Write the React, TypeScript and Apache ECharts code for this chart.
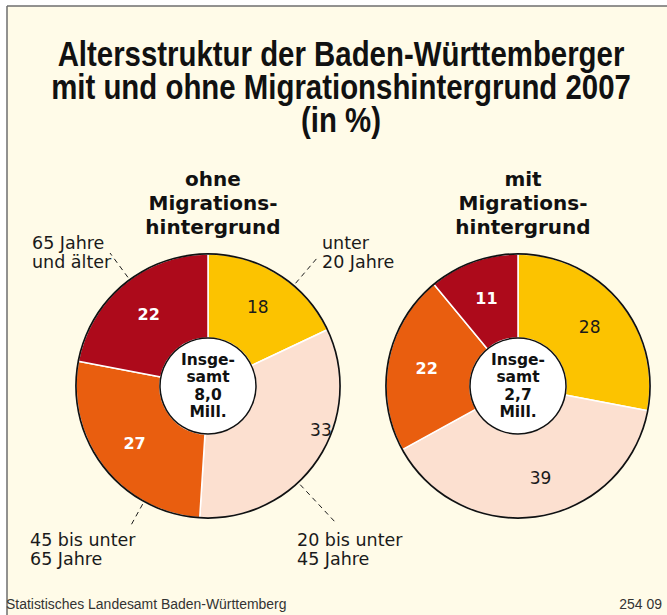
import React, { useEffect, useRef } from 'react';
import * as echarts from 'echarts';

// ---------- data ----------
const CATEGORIES = ['unter 20 Jahre', '20 bis unter 45 Jahre', '45 bis unter 65 Jahre', '65 Jahre und älter'];
const OUTER_LABELS = ['unter\n20 Jahre', '20 bis unter\n45 Jahre', '45 bis unter\n65 Jahre', '65 Jahre\nund älter'];
const OHNE_VALUES = [18, 33, 27, 22];
const MIT_VALUES = [28, 39, 22, 11];
const TOTALS = ['8,0', '2,7'];
const GROUP_TITLES = ['ohne\nMigrations-\nhintergrund', 'mit\nMigrations-\nhintergrund'];
const TITLE = 'Altersstruktur der Baden-Württemberger\nmit und ohne Migrationshintergrund 2007\n(in %)';
const SOURCE = 'Statistisches Landesamt Baden-Württemberg';
const CODE = '254 09';

// ---------- style / layout ----------
const COLORS = ['#fcc300', '#fce0d0', '#e95e0f', '#ad0a1b'];
const LABEL_COLORS = ['#1a1a1a', '#1a1a1a', '#ffffff', '#ffffff'];
const LABEL_WEIGHTS = ['normal', 'normal', 'bold', 'bold'];
const CENTERS = [[208, 386], [518, 386]];
const R_IN = 48;
const R_OUT = 132;
const NUDGES = [
  [[0, 0], [36, -8], [0, 0], [0, 0]],
  [[0, 0], [8, 0], [0, 0], [0, 0]],
];
const OUTER_POS = [[322, 233], [297, 530], [30, 530], [32, 233]];
const LEADER_ANCHOR = [[-4, 24], [39, -7], [100, -3], [78, 20]];
const SANS = '"DejaVu Sans", "Liberation Sans", sans-serif';
const ARIAL = '"Liberation Sans", Arial, sans-serif';
const BG = '#fffbe8';

function buildOption() {
  const groups = [OHNE_VALUES, MIT_VALUES];
  const series: any[] = [];
  groups.forEach((vals, g) => {
    series.push({
      type: 'pie',
      center: CENTERS[g],
      radius: [R_IN, R_OUT],
      startAngle: 90,
      clockwise: true,
      silent: true,
      avoidLabelOverlap: false,
      itemStyle: { borderColor: '#ffffff', borderWidth: 1.5 },
      label: {
        show: true,
        position: 'inside',
        formatter: '{c}',
        fontFamily: SANS,
        fontSize: 17,
      },
      labelLine: { show: false },
      labelLayout: (p: any) => {
        const n = NUDGES[g][p.dataIndex];
        return { dx: n[0], dy: n[1] };
      },
      data: vals.map((v, i) => ({
        value: v,
        name: CATEGORIES[i],
        itemStyle: { color: COLORS[i] },
        label: { color: LABEL_COLORS[i], fontWeight: LABEL_WEIGHTS[i], fontSize: LABEL_WEIGHTS[i] === 'bold' ? 16 : 17 },
      })),
    });
  });

  // outer category labels with dashed leaders (left pie only)
  series.push({
    type: 'pie',
    center: CENTERS[0],
    radius: [R_IN, R_OUT],
    startAngle: 90,
    silent: true,
    avoidLabelOverlap: false,
    itemStyle: { color: 'rgba(0,0,0,0)' },
    label: {
      show: true,
      position: 'outside',
      formatter: (p: any) => OUTER_LABELS[p.dataIndex],
      fontFamily: SANS,
      fontSize: 17.5,
      lineHeight: 19,
      color: '#1a1a1a',
    },
    labelLine: { show: true, lineStyle: { color: '#1a1a1a', width: 1, type: [5, 4] } },
    labelLayout: (p: any) => {
      const i = p.dataIndex;
      const [lx, ly] = OUTER_POS[i];
      const ax = lx + LEADER_ANCHOR[i][0];
      const ay = ly + LEADER_ANCHOR[i][1];
      const [cx, cy] = CENTERS[0];
      const dx = ax - cx;
      const dy = ay - cy;
      const d = Math.hypot(dx, dy);
      const sx = cx + (dx / d) * (R_OUT + 3);
      const sy = cy + (dy / d) * (R_OUT + 3);
      return {
        x: lx,
        y: ly,
        align: 'left',
        verticalAlign: 'top',
        labelLinePoints: [[sx, sy], [ax, ay], [ax, ay]],
      };
    },
    data: OHNE_VALUES.map((v, i) => ({ value: v, name: CATEGORIES[i] })),
  });

  groups.forEach((_, g) => {
    // black outline ring
    series.push({
      type: 'pie',
      center: CENTERS[g],
      radius: [R_OUT - 0.8, R_OUT + 0.9],
      silent: true,
      label: { show: false },
      labelLine: { show: false },
      itemStyle: { color: '#111111', borderWidth: 0 },
      data: [{ value: 1, name: 'outline' }],
    });
    // white centre disk with total
    series.push({
      type: 'pie',
      center: CENTERS[g],
      radius: [0, R_IN],
      silent: true,
      itemStyle: { color: '#ffffff', borderColor: '#111111', borderWidth: 1.5 },
      label: {
        show: true,
        position: 'center',
        formatter: `Insge-\nsamt\n${TOTALS[g]}\nMill.`,
        fontFamily: SANS,
        fontWeight: 'bold',
        fontSize: 15.5,
        lineHeight: 17.5,
        color: '#111111',
      },
      labelLine: { show: false },
      data: [{ value: 1, name: 'Insgesamt' }],
    });
  });

  return {
    animation: false,
    backgroundColor: '#ffffff',
    graphic: [
      { type: 'rect', z: -10, shape: { x: 7, y: 6, width: 660, height: 609 }, style: { fill: BG } },
      { type: 'line', z: -9, shape: { x1: 7, y1: 6, x2: 7, y2: 615 }, style: { stroke: '#6e6e6e', lineWidth: 1.5 } },
      { type: 'line', z: -9, shape: { x1: 7, y1: 6, x2: 667, y2: 6 }, style: { stroke: '#6e6e6e', lineWidth: 1.5 } },
      {
        type: 'text',
        z: 10,
        x: 341,
        y: 38,
        scaleX: 0.84,
        style: {
          text: TITLE,
          fontFamily: ARIAL,
          fontWeight: 'bold',
          fontSize: 35,
          lineHeight: 33,
          fill: '#111111',
          textAlign: 'center',
          textVerticalAlign: 'top',
        },
      },
      {
        type: 'text',
        z: 10,
        x: 6,
        y: 604,
        scaleX: 0.9,
        style: {
          text: SOURCE,
          fontFamily: ARIAL,
          fontSize: 15.5,
          fill: '#333333',
          textAlign: 'left',
          textVerticalAlign: 'middle',
        },
      },
      {
        type: 'text',
        z: 10,
        x: 662,
        y: 604,
        scaleX: 0.9,
        style: {
          text: CODE,
          fontFamily: ARIAL,
          fontSize: 15.5,
          fill: '#333333',
          textAlign: 'right',
          textVerticalAlign: 'middle',
        },
      },
    ],
    title: GROUP_TITLES.map((t, g) => ({
      text: t,
      left: CENTERS[g][0],
      top: 162,
      textAlign: 'center',
      textStyle: { fontFamily: SANS, fontWeight: 'bold', fontSize: 20, lineHeight: 24, color: '#111111' },
    })),
    series,
  };
}

export default function App() {
  const ref = useRef<HTMLDivElement>(null);
  useEffect(() => {
    if (!ref.current) return;
    const chart = echarts.init(ref.current, null, { renderer: 'svg' });
    chart.setOption(buildOption() as any);
    return () => chart.dispose();
  }, []);
  return (
    <div
      ref={ref}
      style={{ position: 'absolute', left: 0, top: 0, width: 667, height: 615 }}
    />
  );
}
